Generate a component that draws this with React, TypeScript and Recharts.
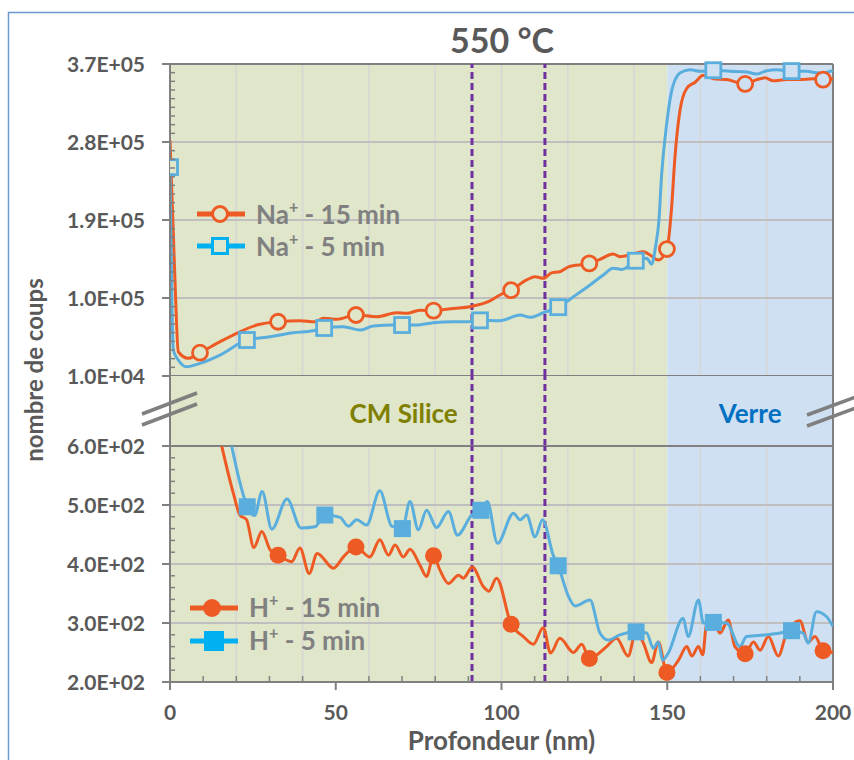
import React from 'react';
import { LineChart, Line, XAxis, YAxis, ReferenceLine, ReferenceArea, Legend } from 'recharts';

// ---------- colours / fonts ----------
const ORANGE = '#EE5A24';
const BLUE = '#5AAEDD';
const BLUE_LEG = '#00B0F0';
const GREEN_BG = '#DFE6CA';
const BLUE_BG = '#CFE0F2';
const PURPLE = '#7030A0';
const AXIS = '#808080';
const VGRID = '#D6D6D6';
const HGRID = '#BFBFBF';
const TXT = '#595959';
const LEG_TXT = '#808080';
const OLIVE = '#7F7F00';
const VERRE = '#0070C0';
const FONT = 'Lato, "Open Sans", sans-serif';

// ---------- axes ----------
const xDomain = [0, 200];
const xMajor = [0, 50, 100, 150, 200];
const xTicks = Array.from({ length: 21 }, (_, i) => i * 10);
const xGrid = [20, 40, 60, 80, 100, 120, 140, 160, 180];
const zoneSilice = [0, 150];
const zoneVerre = [150, 200];
const interfaces = [91.1, 113.1];

const naDomain = [10000, 370000];
const naMajor = [10000, 100000, 190000, 280000, 370000];
const naMajorLabels = ['1.0E+04', '1.0E+05', '1.9E+05', '2.8E+05', '3.7E+05'];
const naTicks = Array.from({ length: 37 }, (_, i) => 10000 + i * 10000);
const naGrid = [100000, 190000, 280000];

const hDomain = [200, 600];
const hMajor = [200, 300, 400, 500, 600];
const hMajorLabels = ['2.0E+02', '3.0E+02', '4.0E+02', '5.0E+02', '6.0E+02'];
const hTicks = Array.from({ length: 21 }, (_, i) => 200 + i * 20);
const hGrid = [300, 400, 500];

// ---------- data: Na+ 15 min ----------
const na15Depth = [0, 1.5, 2.5, 5.5, 9.05, 15.1, 21.1, 26.1, 32.6, 39.2, 43.7, 46.3, 50.3, 56.1, 62.4, 68.4, 71.4, 75.4, 79.5, 85.5, 90.5, 96, 99.5, 102.9, 107.6, 110.1, 112.6, 115.1, 117.6, 120.2, 126.5, 129.7, 133.7, 135.7, 139.8, 142.8, 144.8, 147.3, 149.9, 151.3, 152.3, 153.8, 155.9, 158.4, 160.9, 163.9, 167.9, 171, 173.5, 177, 179.5, 182, 186, 190, 194, 197, 200];
const na15Counts = [282000, 120000, 38000, 30400, 36900, 49600, 61000, 68800, 72600, 73800, 72600, 76600, 75400, 80400, 78400, 83000, 82300, 86000, 85400, 88000, 90000, 95700, 103500, 109000, 120800, 124600, 122700, 129000, 130300, 136000, 140000, 144600, 150800, 147700, 150800, 153400, 149600, 143800, 156500, 203800, 261500, 315400, 342000, 349000, 357000, 353000, 352000, 349000, 347000, 352000, 354000, 350700, 352000, 352000, 353000, 352000, 353000];
const na15MarkDepth = [9.05, 32.6, 56.1, 79.5, 102.9, 126.5, 149.9, 173.5, 197];
const na15MarkCounts = [36900, 72600, 80400, 85400, 109000, 140000, 156500, 347000, 352000];

// ---------- data: Na+ 5 min ----------
const na5Depth = [0, 1, 2.5, 5, 9, 15.1, 23.2, 30.2, 37.2, 43.2, 46.5, 52.3, 57.3, 61.3, 67.4, 70, 74.4, 79.4, 85.5, 90.5, 93.5, 99.5, 105.6, 108.6, 112.6, 117.1, 121.7, 126.7, 130.7, 133.7, 136.3, 140.5, 143.8, 145.3, 146.5, 147.5, 148.3, 149.8, 151.3, 153.8, 156.9, 159.9, 163.9, 168.9, 173.9, 177, 180, 183, 187.5, 192, 196, 200];
const na5Counts = [251000, 40000, 28500, 20700, 24600, 34200, 51500, 55300, 60000, 62300, 65400, 66900, 63000, 67700, 68800, 68800, 68800, 71500, 72600, 72600, 74200, 73800, 80400, 77700, 83000, 89400, 101500, 115000, 126500, 134300, 133000, 143000, 145800, 139000, 160000, 190000, 242000, 300000, 338500, 359600, 363400, 361500, 362800, 361500, 360700, 358500, 362300, 363400, 361800, 361500, 359600, 362300];
const na5MarkDepth = [0, 23.2, 46.5, 70, 93.5, 117.1, 140.5, 163.9, 187.5];
const na5MarkCounts = [251000, 51500, 65400, 68800, 74200, 89400, 143000, 362800, 361800];

// ---------- data: H+ 15 min ----------
const h15Depth = [15.6, 19.1, 21.1, 23.1, 25.3, 27.7, 30.2, 32.6, 36.7, 39.2, 42, 44.4, 49.3, 52.3, 56.1, 60.3, 63.3, 65.9, 67.9, 70.4, 72.4, 75.4, 77.4, 79.5, 81.4, 84, 87, 88.5, 91.2, 94.5, 96.2, 98.5, 102.9, 106.6, 109.6, 112.6, 114.8, 117.6, 121.7, 124.2, 126.5, 131.7, 134.7, 138.2, 140.6, 142.8, 145.3, 147.3, 149.9, 153.4, 155.9, 157.4, 159.4, 160.7, 161.9, 163.9, 165.9, 168.4, 170.4, 173.5, 176, 178, 180.5, 183.5, 186, 190, 192.5, 194.6, 197, 200];
const h15Counts = [600, 520, 483, 475, 428, 455, 424, 415, 404, 427, 384, 418, 393, 412, 429, 412, 441, 415, 432, 412, 425, 398, 379, 414, 390, 367, 381, 376, 395, 362, 354, 376, 298, 277, 264, 292, 249, 274, 250, 264, 240, 260, 274, 244, 287, 266, 233, 268, 216, 237, 260, 244, 260, 246, 300, 302, 283, 305, 260, 248, 268, 254, 277, 244, 283, 304, 268, 277, 253, 250];
const h15MarkDepth = [32.6, 56.1, 79.5, 102.9, 126.5, 149.9, 173.5, 197];
const h15MarkCounts = [415, 429, 414, 298, 240, 216, 248, 253];

// ---------- data: H+ 5 min ----------
const h5Depth = [18.6, 21, 23.3, 25.5, 27.8, 30.7, 35.3, 39.5, 43.7, 46.7, 51.3, 53.8, 56.3, 59.3, 63.3, 66.9, 70.1, 72.4, 74.9, 77.4, 80.4, 84, 86.7, 91, 93.8, 95.7, 98.8, 103.6, 105.6, 107.6, 110.1, 112.4, 115.6, 117.1, 120.2, 122.2, 126.7, 129.7, 132.2, 135.7, 140.6, 143.8, 145.8, 147.3, 148.6, 150.3, 154.8, 156.3, 159.4, 160.9, 163.9, 167.9, 171.9, 173.9, 180, 184, 187.5, 191, 192.5, 195, 198, 200];
const h5Counts = [600, 540, 497, 482, 523, 459, 510, 461, 463, 483, 479, 464, 475, 466, 524, 464, 460, 506, 458, 491, 462, 489, 449, 483, 491, 506, 435, 486, 475, 483, 446, 475, 415, 397, 345, 329, 339, 283, 271, 280, 285, 283, 257, 268, 237, 249, 308, 277, 339, 300, 301, 300, 260, 277, 280, 283, 287, 283, 266, 319, 311, 294];
const h5MarkDepth = [23.3, 46.7, 70.1, 93.8, 117.1, 140.6, 163.9, 187.5];
const h5MarkCounts = [497, 483, 460, 491, 397, 285, 301, 287];

const NA15 = 'Na⁺ - 15 min';
const NA5 = 'Na⁺ - 5 min';
const H15 = 'H⁺ - 15 min';
const H5 = 'H⁺ - 5 min';

const zip = (xs: number[], ys: number[]) => xs.map((x, i) => ({ x, y: ys[i] }));
const na15Data = zip(na15Depth, na15Counts);
const na15Marks = zip(na15MarkDepth, na15MarkCounts);
const na5Data = zip(na5Depth, na5Counts);
const na5Marks = zip(na5MarkDepth, na5MarkCounts);
const h15Data = zip(h15Depth, h15Counts);
const h15Marks = zip(h15MarkDepth, h15MarkCounts);
const h5Data = zip(h5Depth, h5Counts);
const h5Marks = zip(h5MarkDepth, h5MarkCounts);
// zone boundaries as rows for the axis-break band
const bandData = [zoneSilice[0], zoneSilice[1], zoneVerre[1]].map((x) => ({ x, y: 0.5 }));

const bgAt = (x: number) => (x < zoneVerre[0] ? GREEN_BG : BLUE_BG);

// ---------- markers ----------
const openCircle = (p: any) => (
  <circle key={`oc${p.index}`} cx={p.cx} cy={p.cy} r={7.5} fill={bgAt(p.payload.x)} stroke={ORANGE} strokeWidth={2.8} />
);
const openSquare = (p: any) => (
  <rect key={`os${p.index}`} x={p.cx - 7.5} y={p.cy - 7.5} width={15} height={15} fill={bgAt(p.payload.x)} stroke={BLUE} strokeWidth={2.8} />
);
const fullCircle = (p: any) => (
  <circle key={`fc${p.index}`} cx={p.cx} cy={p.cy} r={8.5} fill={ORANGE} stroke="none" />
);
const fullSquare = (p: any) => (
  <rect key={`fs${p.index}`} x={p.cx - 8.5} y={p.cy - 8.5} width={17} height={17} fill={BLUE} stroke="none" />
);

// ---------- ticks ----------
const makeYTick = (majors: number[], labels: string[]) => (p: any) => {
  const { x, y, payload } = p;
  const k = majors.indexOf(payload.value);
  if (k >= 0) {
    return (
      <g>
        <line x1={x - 8} x2={x} y1={y} y2={y} stroke={AXIS} strokeWidth={2} />
        <text x={x - 25} y={y} dy={7.5} textAnchor="end" fill={TXT} fontSize={21} fontWeight={700} fontFamily={FONT}>
          {labels[k]}
        </text>
      </g>
    );
  }
  return <line x1={x} x2={x + 5} y1={y} y2={y} stroke={AXIS} strokeWidth={1.5} />;
};
const naTick = makeYTick(naMajor, naMajorLabels);
const hTick = makeYTick(hMajor, hMajorLabels);

const xTick = (p: any) => {
  const { x, y, payload } = p;
  const v = payload.value;
  if (xMajor.includes(v)) {
    return (
      <g>
        <line x1={x} x2={x} y1={y} y2={y + 8} stroke={AXIS} strokeWidth={2} />
        <text x={x} y={y + 38} textAnchor="middle" fill={TXT} fontSize={21} fontWeight={700} fontFamily={FONT}>
          {v}
        </text>
      </g>
    );
  }
  return <line x1={x} x2={x} y1={y} y2={y - 6} stroke={AXIS} strokeWidth={1.5} />;
};

// ---------- legend ----------
const legendSpec: Record<string, { color: string; marker: string }> = {
  [NA15]: { color: ORANGE, marker: 'openCircle' },
  [NA5]: { color: BLUE_LEG, marker: 'openSquare' },
  [H15]: { color: ORANGE, marker: 'circle' },
  [H5]: { color: BLUE_LEG, marker: 'square' },
};

const ionName = (name: string) => {
  const [a, b] = name.split('⁺');
  return (
    <>
      {a}
      <sup style={{ fontSize: '0.62em', lineHeight: 0, verticalAlign: '0.7em' }}>+</sup>
      {b}
    </>
  );
};

const LegendIcon = ({ color, marker }: { color: string; marker: string }) => (
  <svg width={48} height={24} style={{ overflow: 'visible', flex: 'none' }}>
    <line x1={0} x2={48} y1={12} y2={12} stroke={color} strokeWidth={5} />
    {marker === 'openCircle' && <circle cx={23} cy={12} r={7.5} fill={GREEN_BG} stroke={color} strokeWidth={3} />}
    {marker === 'openSquare' && <rect x={15.5} y={4.5} width={15} height={15} fill={GREEN_BG} stroke={color} strokeWidth={3} />}
    {marker === 'circle' && <circle cx={22} cy={12} r={9} fill={color} />}
    {marker === 'square' && <rect x={14} y={2} width={20} height={20} fill={color} />}
  </svg>
);

const entryName = (e: any): string => String(e?.value ?? e?.payload?.name ?? '');

const renderLegend = (names: string[], rowH: number) => (props: any) => {
  const items = ((props.payload || []) as any[]).map(entryName).filter((n) => names.includes(n));
  const shown = items.length ? names.filter((n) => items.includes(n)) : names;
  return (
    <div style={{ fontFamily: FONT, fontWeight: 700, fontSize: 26, color: LEG_TXT }}>
      {shown.map((n) => {
        const spec = legendSpec[n];
        return (
          <div key={n} style={{ display: 'flex', alignItems: 'center', height: rowH, whiteSpace: 'nowrap' }}>
            <LegendIcon color={spec.color} marker={spec.marker} />
            <span style={{ marginLeft: 11, lineHeight: `${rowH}px` }}>{ionName(n)}</span>
          </div>
        );
      })}
    </div>
  );
};

const zoneLabel = (text: string, color: string, dx: number) => (props: any) => {
  const vb = props.viewBox || {};
  return (
    <text
      x={vb.x + vb.width / 2 + dx}
      y={vb.y + vb.height / 2}
      dy={12}
      textAnchor="middle"
      fill={color}
      fontSize={26}
      fontWeight={700}
      fontFamily={FONT}
    >
      {text}
    </text>
  );
};

const backgrounds = () => [
  <ReferenceArea key="bg1" x1={zoneSilice[0]} x2={zoneSilice[1]} fill={GREEN_BG} fillOpacity={1} stroke="none" />,
  <ReferenceArea key="bg2" x1={zoneVerre[0]} x2={zoneVerre[1]} fill={BLUE_BG} fillOpacity={1} stroke="none" />,
];
const vGridLines = () =>
  xGrid.map((v) => <ReferenceLine key={`vg${v}`} x={v} stroke={VGRID} strokeWidth={1.5} />);
const interfaceLines = () =>
  interfaces.map((v) => (
    <ReferenceLine key={`if${v}`} x={v} stroke={PURPLE} strokeWidth={3} strokeDasharray="7 4" />
  ));

export default function App() {
  return (
    <div
      style={{
        position: 'absolute',
        left: 0,
        top: 0,
        width: 854,
        height: 760,
        overflow: 'hidden',
        background: '#ffffff',
        fontFamily: FONT,
      }}
    >
      {/* Upper panel: Na+ */}
      <div style={{ position: 'absolute', left: 0, top: 0 }}>
        <LineChart width={854} height={396} margin={{ top: 64, right: 21, bottom: 20, left: 0 }}>
          <XAxis type="number" dataKey="x" domain={xDomain} hide allowDataOverflow />
          <YAxis
            type="number"
            domain={naDomain}
            ticks={naTicks}
            interval={0}
            width={170}
            tick={naTick}
            tickLine={false}
            tickSize={0}
            tickMargin={0}
            axisLine={{ stroke: AXIS, strokeWidth: 2 }}
          />
          {backgrounds()}
          {vGridLines()}
          {naGrid.map((v) => (
            <ReferenceLine key={`hg${v}`} y={v} stroke={HGRID} strokeWidth={2} />
          ))}
          <ReferenceLine y={naDomain[1]} stroke={AXIS} strokeWidth={2} />
          <ReferenceLine y={naDomain[0]} stroke={AXIS} strokeWidth={2} />
          <ReferenceLine x={xDomain[1]} stroke={AXIS} strokeWidth={2} />
          <ReferenceLine x={xDomain[0]} stroke={AXIS} strokeWidth={2} />
          {interfaceLines()}
          <Line data={na15Data} dataKey="y" name={NA15} type="monotone" stroke={ORANGE} strokeWidth={3} dot={false} activeDot={false} isAnimationActive={false} />
          <Line data={na5Data} dataKey="y" name={NA5} type="monotone" stroke={BLUE} strokeWidth={3} dot={false} activeDot={false} isAnimationActive={false} />
          <Line data={na15Marks} dataKey="y" name="na15m" stroke="none" legendType="none" dot={openCircle} activeDot={false} isAnimationActive={false} />
          <Line data={na5Marks} dataKey="y" name="na5m" stroke="none" legendType="none" dot={openSquare} activeDot={false} isAnimationActive={false} />
          <Legend
            layout="vertical"
            align="center"
            verticalAlign="middle"
            content={renderLegend([NA15, NA5], 32)}
            wrapperStyle={{ left: 197, top: 198, width: 'auto', height: 'auto' }}
          />
        </LineChart>
      </div>

      {/* Axis-break band */}
      <div style={{ position: 'absolute', left: 0, top: 376 }}>
        <LineChart width={854} height={70} data={bandData} margin={{ top: 0, right: 21, bottom: 0, left: 0 }}>
          <XAxis type="number" dataKey="x" domain={xDomain} hide allowDataOverflow />
          <YAxis type="number" domain={[0, 1]} width={170} tick={false} tickLine={false} axisLine={{ stroke: AXIS, strokeWidth: 2 }} />
          <ReferenceArea
            x1={zoneSilice[0]}
            x2={zoneSilice[1]}
            fill={GREEN_BG}
            fillOpacity={1}
            stroke="none"
            label={zoneLabel('CM Silice', OLIVE, -15)}
          />
          <ReferenceArea
            x1={zoneVerre[0]}
            x2={zoneVerre[1]}
            fill={BLUE_BG}
            fillOpacity={1}
            stroke="none"
            label={zoneLabel('Verre', VERRE, 0)}
          />
          <ReferenceLine x={xDomain[1]} stroke={AXIS} strokeWidth={2} />
          <ReferenceLine x={xDomain[0]} stroke={AXIS} strokeWidth={2} />
          {interfaceLines()}
          <Line dataKey="y" stroke="none" dot={false} activeDot={false} legendType="none" isAnimationActive={false} />
        </LineChart>
      </div>

      {/* Lower panel: H+ */}
      <div style={{ position: 'absolute', left: 0, top: 426 }}>
        <LineChart width={854} height={334} margin={{ top: 20, right: 21, bottom: 0, left: 0 }}>
          <XAxis
            type="number"
            dataKey="x"
            domain={xDomain}
            ticks={xTicks}
            interval={0}
            tick={xTick}
            tickLine={false}
            tickSize={0}
            tickMargin={0}
            height={78}
            allowDataOverflow
            axisLine={{ stroke: AXIS, strokeWidth: 2 }}
            label={{
              value: 'Profondeur (nm)',
              position: 'insideBottom',
              offset: 10,
              fill: TXT,
              fontSize: 26,
              fontWeight: 700,
              fontFamily: FONT,
            }}
          />
          <YAxis
            type="number"
            domain={hDomain}
            ticks={hTicks}
            interval={0}
            width={170}
            tick={hTick}
            tickLine={false}
            tickSize={0}
            tickMargin={0}
            allowDataOverflow
            axisLine={{ stroke: AXIS, strokeWidth: 2 }}
          />
          {backgrounds()}
          {vGridLines()}
          {hGrid.map((v) => (
            <ReferenceLine key={`hg${v}`} y={v} stroke={HGRID} strokeWidth={2} />
          ))}
          <ReferenceLine y={hDomain[1]} stroke={AXIS} strokeWidth={2} />
          <ReferenceLine x={xDomain[1]} stroke={AXIS} strokeWidth={2} />
          <ReferenceLine x={xDomain[0]} stroke={AXIS} strokeWidth={2} />
          {interfaceLines()}
          <Line data={h15Data} dataKey="y" name={H15} type="monotone" stroke={ORANGE} strokeWidth={3} dot={false} activeDot={false} isAnimationActive={false} />
          <Line data={h5Data} dataKey="y" name={H5} type="monotone" stroke={BLUE} strokeWidth={3} dot={false} activeDot={false} isAnimationActive={false} />
          <Line data={h15Marks} dataKey="y" name="h15m" stroke="none" legendType="none" dot={fullCircle} activeDot={false} isAnimationActive={false} />
          <Line data={h5Marks} dataKey="y" name="h5m" stroke="none" legendType="none" dot={fullSquare} activeDot={false} isAnimationActive={false} />
          <Legend
            layout="vertical"
            align="center"
            verticalAlign="middle"
            content={renderLegend([H15, H5], 33)}
            wrapperStyle={{ left: 190, top: 165, width: 'auto', height: 'auto' }}
          />
        </LineChart>
      </div>

      {/* Overlay: title, axis title, break marks, frame */}
      <svg
        width={854}
        height={760}
        style={{ position: 'absolute', left: 0, top: 0, pointerEvents: 'none' }}
      >
        <path d="M8.5 760 V12.5 H854" stroke="#6E98D0" strokeWidth={1.5} fill="none" />
        <text x={502} y={53} textAnchor="middle" fill={TXT} fontSize={34} fontWeight={700} fontFamily={FONT}>
          550 °C
        </text>
        <text
          x={43}
          y={370}
          textAnchor="middle"
          transform="rotate(-90 43 370)"
          fill={TXT}
          fontSize={24}
          fontWeight={700}
          fontFamily={FONT}
        >
          nombre de coups
        </text>
        <g stroke="#7F7F7F" strokeWidth={3.5}>
          <line x1={142} y1={414} x2={197} y2={393} />
          <line x1={142} y1={425} x2={197} y2={404} />
          <line x1={807} y1={415} x2={856} y2={397} />
          <line x1={807} y1={426} x2={856} y2={408} />
        </g>
      </svg>
    </div>
  );
}
